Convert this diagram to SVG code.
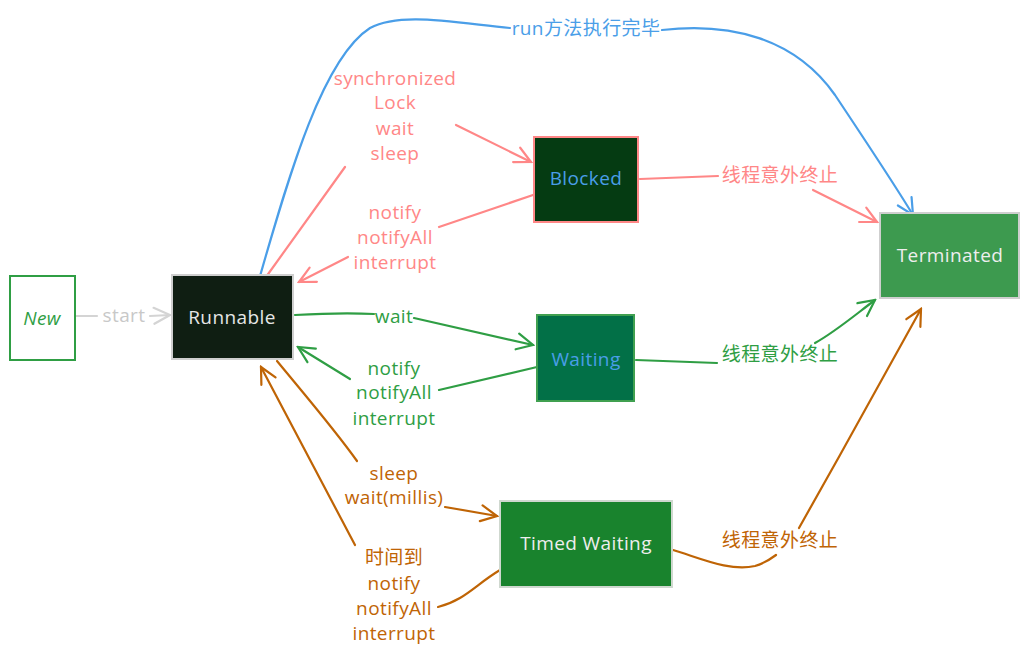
<svg xmlns="http://www.w3.org/2000/svg" width="1029" height="655" viewBox="0 0 1029 655">
<style>
text{font-family:"Open Sans","Liberation Sans","Noto Sans CJK SC",sans-serif;font-size:19px;letter-spacing:0.4px;text-anchor:middle;dominant-baseline:central}
.c{fill:none;stroke-width:2.2;stroke-linecap:round;stroke-linejoin:round}
.red{stroke:#ff8787}.redt{fill:#ff8787}
.grn{stroke:#2f9e44}.grnt{fill:#2f9e44}
.org{stroke:#bf6405}.orgt{fill:#bf6405}
.blu{stroke:#4a9ee8}.blut{fill:#4a9ee8}
.gry{stroke:#d4d4d4}.gryt{fill:#c8c8c8}
.node{stroke-width:2}
</style>
<defs>
<marker id="aR" viewBox="0 0 20 20" refX="18" refY="10" markerWidth="20" markerHeight="20" markerUnits="userSpaceOnUse" orient="auto"><path d="M2,2 L18,10 L2,18" fill="none" stroke="#ff8787" stroke-width="2.2" stroke-linecap="round"/></marker>
<marker id="aG" viewBox="0 0 20 20" refX="18" refY="10" markerWidth="20" markerHeight="20" markerUnits="userSpaceOnUse" orient="auto"><path d="M2,2 L18,10 L2,18" fill="none" stroke="#2f9e44" stroke-width="2.2" stroke-linecap="round"/></marker>
<marker id="aO" viewBox="0 0 20 20" refX="18" refY="10" markerWidth="20" markerHeight="20" markerUnits="userSpaceOnUse" orient="auto"><path d="M2,2 L18,10 L2,18" fill="none" stroke="#bf6405" stroke-width="2.2" stroke-linecap="round"/></marker>
<marker id="aB" viewBox="0 0 20 20" refX="18" refY="10" markerWidth="20" markerHeight="20" markerUnits="userSpaceOnUse" orient="auto"><path d="M2,2 L18,10 L2,18" fill="none" stroke="#4a9ee8" stroke-width="2.2" stroke-linecap="round"/></marker>
<marker id="aY" viewBox="0 0 20 20" refX="18" refY="10" markerWidth="20" markerHeight="20" markerUnits="userSpaceOnUse" orient="auto"><path d="M2,2 L18,10 L2,18" fill="none" stroke="#d4d4d4" stroke-width="2.2" stroke-linecap="round"/></marker>
</defs>
<rect width="1029" height="655" fill="#ffffff"/>

<g id="connectors">
  <!-- start -->
  <path class="c gry" d="M76,316 L97,316" stroke-width="3"/>
  <path class="c gry" d="M150,316 L170,315" marker-end="url(#aY)"/>
  <text class="gryt" x="124" y="315">start</text>
  <!-- run finished -->
  <path class="c blu" d="M258,283 C285,190 320,60 370,28 C400,12 450,22 510,28" stroke-width="2.8"/>
  <path class="c blu" d="M662,30 C730,22 795,38 835,95 C865,140 893,182 913,215" marker-end="url(#aB)" stroke-width="2.5"/>
  <text class="blut" x="586" y="28">run方法执行完毕</text>
  <!-- to blocked -->
  <path class="c red" d="M266,277 L345,167"/>
  <path class="c red" d="M456,125 L531,162" marker-end="url(#aR)"/>
  <text class="redt" x="395" y="78">synchronized</text>
  <text class="redt" x="395" y="102">Lock</text>
  <text class="redt" x="395" y="128">wait</text>
  <text class="redt" x="395" y="153">sleep</text>
  <!-- blocked back -->
  <path class="c red" d="M533,195 L439,227" stroke-width="3"/>
  <path class="c red" d="M348,257 L299,282" marker-end="url(#aR)"/>
  <text class="redt" x="395" y="212">notify</text>
  <text class="redt" x="395" y="237">notifyAll</text>
  <text class="redt" x="395" y="262">interrupt</text>
  <!-- blocked terminated -->
  <path class="c red" d="M640,179 L718,176"/>
  <path class="c red" d="M813,190 L877,222" marker-end="url(#aR)"/>
  <text class="redt" x="780" y="175">线程意外终止</text>
  <!-- wait -->
  <path class="c grn" d="M295,315 C330,313 355,313 374,314"/>
  <path class="c grn" d="M414,318 L533,345" marker-end="url(#aG)" stroke-width="2.6"/>
  <text class="grnt" x="394" y="316">wait</text>
  <!-- waiting back -->
  <path class="c grn" d="M537,367 L439,390" stroke-width="3"/>
  <path class="c grn" d="M350,379 L298,347" marker-end="url(#aG)" stroke-width="2.6"/>
  <text class="grnt" x="394" y="368">notify</text>
  <text class="grnt" x="394" y="392">notifyAll</text>
  <text class="grnt" x="394" y="418">interrupt</text>
  <!-- waiting terminated -->
  <path class="c grn" d="M636,360 L717,363" stroke-width="3.2"/>
  <path class="c grn" d="M815,343 C835,332 855,315 875,300" marker-end="url(#aG)" stroke-width="2.6"/>
  <text class="grnt" x="780" y="354">线程意外终止</text>
  <!-- timed -->
  <path class="c org" d="M277,361 C305,395 335,430 357,461" stroke-width="3"/>
  <path class="c org" d="M445,507 L497,516" marker-end="url(#aO)"/>
  <text class="orgt" x="394" y="473">sleep</text>
  <text class="orgt" x="394" y="497">wait(millis)</text>
  <!-- timed back -->
  <path class="c org" d="M500,570 C475,585 465,600 438,607" stroke-width="3"/>
  <path class="c org" d="M355,545 L261,367" marker-end="url(#aO)"/>
  <text class="orgt" x="394" y="557">时间到</text>
  <text class="orgt" x="394" y="583">notify</text>
  <text class="orgt" x="394" y="608">notifyAll</text>
  <text class="orgt" x="394" y="633">interrupt</text>
  <!-- timed terminated -->
  <path class="c org" d="M673,550 C700,558 730,572 755,566 C765,563 772,558 776,555"/>
  <path class="c org" d="M799,528 C840,455 885,375 921,309" marker-end="url(#aO)"/>
  <text class="orgt" x="780" y="540">线程意外终止</text>
</g>

<g id="node-new">
  <rect class="node" x="10" y="276" width="65" height="84" fill="#ffffff" stroke="#2f9e44"/>
  <text x="42" y="318" fill="#2f9e44" font-style="italic">New</text>
</g>
<g id="node-runnable">
  <rect class="node" x="172" y="275" width="121" height="84" fill="#0f1e12" stroke="#cfcfcf"/>
  <text x="232" y="317" fill="#e6e6e6">Runnable</text>
</g>
<g id="node-blocked">
  <rect class="node" x="534" y="137" width="104" height="85" fill="#053b12" stroke="#ff8787"/>
  <text x="586" y="178" fill="#4a9ee8">Blocked</text>
</g>
<g id="node-waiting">
  <rect class="node" x="537" y="315" width="97" height="86" fill="#027047" stroke="#40a050"/>
  <text x="586" y="359" fill="#4a9ee8">Waiting</text>
</g>
<g id="node-timed-waiting">
  <rect class="node" x="500" y="501" width="172" height="86" fill="#19832d" stroke="#cfd8cf"/>
  <text x="586" y="543" fill="#eeeeee">Timed Waiting</text>
</g>
<g id="node-terminated">
  <rect class="node" x="880" y="213" width="139" height="85" fill="#3d9a4f" stroke="#cfcfcf"/>
  <text x="950" y="255" fill="#eeeeee">Terminated</text>
</g>
</svg>
